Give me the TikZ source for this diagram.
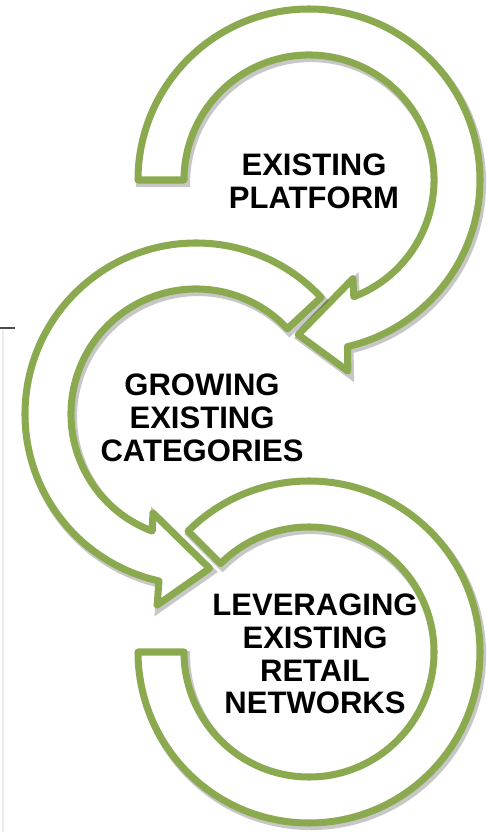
\documentclass[tikz,border=0pt]{standalone}
\usepackage{fontspec}
\setmainfont{Liberation Sans}
\definecolor{bandgreen}{RGB}{139,170,80}
\begin{document}
\begin{tikzpicture}[x=0.03cm,y=0.03cm,
  arrowband/.style={draw=bandgreen,fill=white,line width=6pt,line join=round,
    preaction={draw=black,opacity=0.22,line width=7pt,transform canvas={shift={(2,-3)}}}},
  captext/.style={align=center,font=\fontsize{26.5}{28}\selectfont\bfseries,text=black}]
\useasboundingbox (0,0) rectangle (487,832);

% left edge
\draw[black!70,line width=1.5pt] (0,504) -- (15,504);
\draw[black!8,line width=1pt] (3,502) -- (3,0);

% first arrow
\coordinate (c1) at (309,652);
\path[arrowband] ([shift={(180:171)}]c1) arc[start angle=180,end angle=-77,radius=171]
  -- ([shift={(-78.5:195)}]c1) -- ([shift={(-94:155)}]c1) -- ([shift={(-66:108)}]c1)
  -- ([shift={(-69:125)}]c1) arc[start angle=-69,end angle=180,radius=125] -- cycle;

% second arrow
\coordinate (c2) at (196,418);
\path[arrowband] ([shift={(43:171)}]c2) arc[start angle=43,end angle=257.5,radius=171]
  -- ([shift={(258.5:195)}]c2) -- ([shift={(275:155)}]c2) -- ([shift={(246.5:108)}]c2)
  -- ([shift={(249.5:125)}]c2) arc[start angle=249.5,end angle=43,radius=125] -- cycle;

% last one, no head
\coordinate (c3) at (309,180);
\path[arrowband] ([shift={(135:171)}]c3) arc[start angle=135,end angle=-180,radius=171]
  -- ([shift={(180:125)}]c3) arc[start angle=-180,end angle=135,radius=125] -- cycle;

\node[captext] (platform) at (314,651) {EXISTING\\PLATFORM};
\node[captext] (categories) at (202,414) {GROWING\\EXISTING\\CATEGORIES};
\node[captext] (retail) at (315,178) {LEVERAGING\\EXISTING\\RETAIL\\NETWORKS};
\end{tikzpicture}
\end{document}
